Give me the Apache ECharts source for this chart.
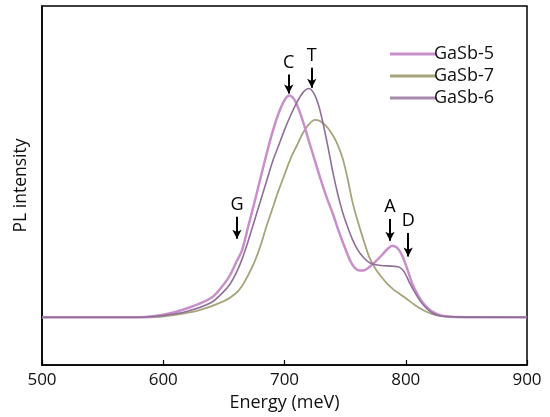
<!DOCTYPE html>
<html><head><meta charset="utf-8">
<script src="https://cdn.jsdelivr.net/npm/echarts@6/dist/echarts.min.js"></script>
<style>html,body{margin:0;padding:0;background:#fff}#c{width:550px;height:417px}</style>
</head><body><div id="c"></div>
<script>
// Energy (meV) and PL intensity (a.u.)
const gasb5E = [500,550,580,600,620,640,650,655,660,665,670,675,680,685,690,695,700,704,708,712,716,720,725,730,735,740,745,750,755,760,765,770,775,780,785,789,793,797,801,805,810,815,820,825,830,840,900];
const gasb5I = [13.3,13.3,13.3,14.0,15.8,18.8,22.5,25.0,28.5,32.0,38.5,45.0,51.8,58.5,64.8,70.0,73.8,75.1,74.0,71.0,67.0,62.5,57.0,51.5,46.5,42.0,37.0,32.5,28.5,26.5,26.3,27.3,28.8,30.5,32.3,33.2,32.6,30.5,27.0,23.0,19.5,17.0,15.3,14.3,13.7,13.4,13.3];

const gasb7E = [500,590,610,630,650,660,665,670,675,680,685,690,695,700,705,710,715,720,725,729,733,738,743,748,752,756,760,765,770,775,780,785,790,795,800,808,815,822,830,840,900];
const gasb7I = [13.3,13.3,14.0,15.3,17.8,20.0,22.0,25.0,28.5,33.0,38.5,43.5,48.5,53.0,57.5,61.0,64.5,67.0,68.3,68.0,67.0,65.0,62.0,57.5,52.0,45.5,40.5,35.0,30.0,26.8,24.5,22.5,21.0,19.8,18.6,16.6,15.2,14.2,13.6,13.4,13.3];

const gasb6E = [500,580,600,620,640,650,655,660,665,670,675,680,685,690,695,700,705,710,715,720,724,728,732,736,740,744,748,752,756,760,765,770,775,780,790,795,799,803,807,812,817,822,828,840,900];
const gasb6I = [13.3,13.3,13.8,15.0,17.5,20.5,22.5,25.5,29.5,34.5,40.0,45.5,51.0,56.5,61.0,65.5,69.5,73.0,75.8,77.0,75.8,72.5,67.0,60.5,53.5,47.5,42.5,38.5,35.0,32.3,30.0,28.5,27.9,27.7,27.5,27.2,25.8,23.0,20.5,17.8,15.8,14.5,13.7,13.4,13.3];

const xTicks = [500,600,700,800,900];
// annotation arrows: [label, energy, startIntensity, endIntensity]
const marks = [["C",703.5,80.9,75.6],["T",722.5,82.8,77.2],["G",660.8,41.3,35.2],["A",787,40.7,34.6],["D",802,36.8,30.2]];

const zip = (a,b)=>a.map((v,i)=>[v,b[i]]);
const chart = echarts.init(document.getElementById('c'));
const font = '"Open Sans", "Noto Sans", sans-serif';
chart.setOption({
  animation:false,
  backgroundColor:'#fff',
  grid:{left:42,right:23,top:6,bottom:50,show:true,borderColor:'#000',borderWidth:1.5},
  legend:{orient:'vertical',left:385,top:40,itemWidth:46,itemHeight:3,itemGap:4,icon:'rect',
    textStyle:{fontFamily:font,fontSize:18,color:'#111',padding:[0,0,0,-7]},
    data:['GaSb-5','GaSb-7','GaSb-6']},
  xAxis:{type:'value',min:500,max:900,interval:100,
    name:'Energy (meV)',nameLocation:'middle',nameGap:29,
    nameTextStyle:{fontFamily:font,fontSize:18,color:'#111'},
    axisLine:{lineStyle:{color:'#000',width:1.5}},
    axisTick:{inside:true,length:5,lineStyle:{color:'#000',width:1.2}},
    axisLabel:{fontFamily:font,fontSize:17,color:'#111',margin:7,showMinLabel:true,showMaxLabel:true,
      formatter:v=>xTicks.includes(v)?String(v):''},
    splitLine:{show:false}},
  yAxis:{type:'value',min:0,max:100,
    name:'PL intensity',nameLocation:'middle',nameGap:12,
    nameTextStyle:{fontFamily:font,fontSize:17.5,color:'#111'},
    axisLine:{show:true,lineStyle:{color:'#000',width:1.5}},
    axisTick:{show:false},axisLabel:{show:false},splitLine:{show:false}},
  series:[
    {name:'GaSb-5',type:'line',data:zip(gasb5E,gasb5I),smooth:0.3,showSymbol:false,z:3,
      lineStyle:{color:'#c98fcb',width:2.5},itemStyle:{color:'#c98fcb'},
      markLine:{silent:true,symbol:['none','arrow'],symbolSize:[7,9],
        lineStyle:{color:'#000',width:2,type:'solid'},
        label:{show:true,position:'start',formatter:'{b}',fontFamily:font,fontSize:18,color:'#000',distance:3},
        data:marks.map(m=>[{name:m[0],coord:[m[1],m[2]]},{coord:[m[1],m[3]]}])}},
    {name:'GaSb-7',type:'line',data:zip(gasb7E,gasb7I),smooth:0.3,showSymbol:false,z:2,
      lineStyle:{color:'#a5a47a',width:1.8},itemStyle:{color:'#a5a47a'}},
    {name:'GaSb-6',type:'line',data:zip(gasb6E,gasb6I),smooth:0.3,showSymbol:false,z:4,
      lineStyle:{color:'#8f6f98',width:1.6},itemStyle:{color:'#a58aab'}}
  ]
});
</script></body></html>
